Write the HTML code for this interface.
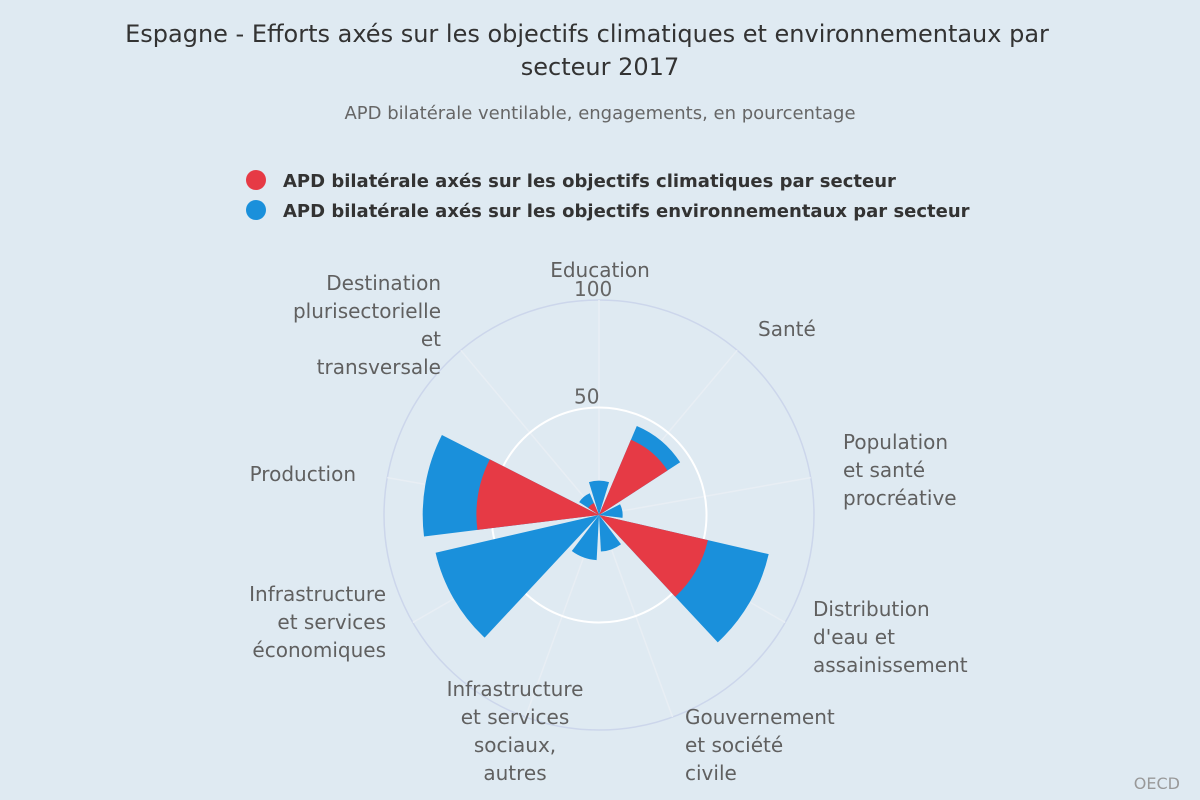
<!DOCTYPE html>
<html><head><meta charset="utf-8"><style>
html,body{margin:0;padding:0;background:#dfeaf2;}
svg{display:block;font-family:"DejaVu Sans","Liberation Sans",sans-serif;}
</style></head><body>
<svg width="1200" height="800" viewBox="0 0 1200 800">
<rect width="1200" height="800" fill="#dfeaf2"/>
<text x="587" y="42" text-anchor="middle" font-size="24" fill="#333">Espagne - Efforts axés sur les objectifs climatiques et environnementaux par</text>
<text x="600" y="75" text-anchor="middle" font-size="24" fill="#333">secteur 2017</text>
<text x="600" y="119" text-anchor="middle" font-size="18" fill="#666">APD bilatérale ventilable, engagements, en pourcentage</text>
<g>
<g><circle cx="256" cy="180" r="10" fill="#e63a45"/><text x="283" y="187" font-size="18" font-weight="bold" fill="#333">APD bilatérale axés sur les objectifs climatiques par secteur</text></g>
<g><circle cx="256" cy="210" r="10" fill="#1a90db"/><text x="283" y="217" font-size="18" font-weight="bold" fill="#333">APD bilatérale axés sur les objectifs environnementaux par secteur</text></g>
</g>
<g id="plot"></g>
<text x="1180" y="789" text-anchor="end" font-size="16" fill="#999">OECD</text>
</svg>
<script>
const categories=["Education","Santé","Population et santé procréative","Distribution d'eau et assainissement","Gouvernement et société civile","Infrastructure et services sociaux, autres","Infrastructure et services économiques","Production","Destination plurisectorielle et transversale"];
const climateValues=[0,38,0,52,0,0,0,57,6];
const environmentValues=[16,45,11,81,17,21,78,82,11];
const tickValues=[50,100];
const tickLabels=["50","100"];
const labelLines=[["Education"],["Santé"],["Population","et santé","procréative"],["Distribution","d'eau et","assainissement"],["Gouvernement","et société","civile"],["Infrastructure","et services","sociaux,","autres"],["Infrastructure","et services","économiques"],["Production"],["Destination","plurisectorielle","et","transversale"]];
const labelLayout=[[600,277,'middle'],[758,336,'start'],[843,449,'start'],[813,616,'start'],[685,724,'start'],[515,696,'middle'],[386,601,'end'],[356,481,'end'],[441,290,'end']];

const NS="http://www.w3.org/2000/svg";
const cx=599,cy=515,R=215,maxV=100;
const g=document.getElementById('plot');
function rScale(v){return v/maxV*R;}
function ang(i){return i*360/categories.length;}
function pt(a,r){const t=a*Math.PI/180;return [cx+r*Math.sin(t),cy-r*Math.cos(t)];}
function mk(tag,attrs){const e=document.createElementNS(NS,tag);for(const k in attrs)e.setAttribute(k,attrs[k]);g.appendChild(e);return e;}
const outer=mk('circle',{cx:cx,cy:cy,r:R,fill:'none',stroke:'#ccd6eb','stroke-width':1.5});


categories.forEach((c,i)=>{const p=pt(ang(i),R);const l=mk('line',{x1:cx,y1:cy,x2:p[0],y2:p[1],stroke:'#e8eef4','stroke-width':1.5});

});
const inner=mk('circle',{cx:cx,cy:cy,r:rScale(tickValues[0]),fill:'none',stroke:'#fff','stroke-width':2});


function wedge(i,v,color,name){
  const half=17,a0=ang(i)-half,a1=ang(i)+half,r=rScale(v);
  if(v<=0)return;
  const p0=pt(a0,r),p1=pt(a1,r);
  const w=mk('path',{d:`M${cx},${cy}L${p0[0]},${p0[1]}A${r},${r} 0 0 1 ${p1[0]},${p1[1]}Z`,fill:color});
  
  
}
environmentValues.forEach((v,i)=>wedge(i,v,'#1a90db','environment-bar'));
climateValues.forEach((v,i)=>wedge(i,v,'#e63a45','climate-bar'));
tickValues.forEach((v,i)=>{const t=mk('text',{x:cx-25,y:cy-rScale(v)-4,'text-anchor':'start','font-size':20,fill:'#666'});t.textContent=tickLabels[i];

});
labelLines.forEach((lines,i)=>{
  const [x,y0,anchor]=labelLayout[i],lh=28;
  const t=mk('text',{x:x,y:y0,'text-anchor':anchor,'font-size':20,fill:'#606060'});
  
  
  lines.forEach((ln,j)=>{const ts=document.createElementNS(NS,'tspan');ts.setAttribute('x',x);ts.setAttribute('y',y0+j*lh);ts.textContent=ln;t.appendChild(ts);});
});
</script>
</body></html>
